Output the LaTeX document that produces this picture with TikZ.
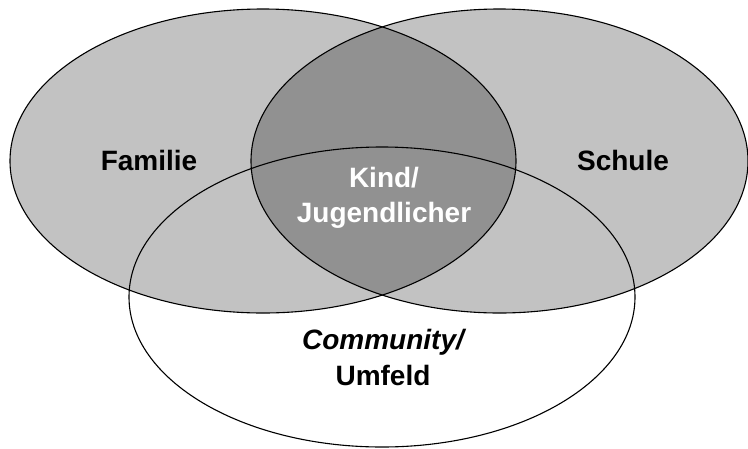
\documentclass[tikz,border=0pt]{standalone}
\usepackage{fontspec}
\setmainfont{Liberation Sans}
\usetikzlibrary{shapes.geometric}
\begin{document}
\begin{tikzpicture}[x=1pt,y=-1pt,
  setline/.style={draw=black,line width=1.1pt},
  setfill/.style={fill=black!24},
  lensfill/.style={fill=black!43},
  lbl/.style={font=\fontsize{28}{35}\selectfont\bfseries,align=center,inner sep=0pt}]
\useasboundingbox (0,0) rectangle (748,448);
% fills
\fill[setfill] (263,161) ellipse [x radius=253, y radius=152];
\fill[setfill] (499.5,161) ellipse [x radius=248.5, y radius=152];
\begin{scope}
  \clip (263,161) ellipse [x radius=253, y radius=152];
  \fill[lensfill] (499.5,161) ellipse [x radius=248.5, y radius=152];
\end{scope}
% outlines
\node[setline,ellipse,minimum width=506pt,minimum height=304pt,inner sep=0pt] (fam) at (263,161) {};
\node[setline,ellipse,minimum width=497pt,minimum height=304pt,inner sep=0pt] (sch) at (499.5,161) {};
\node[setline,ellipse,minimum width=506pt,minimum height=300pt,inner sep=0pt] (com) at (382,297) {};
% labels
\node[lbl,anchor=base] (tfam) at (149,170) {Familie};
\node[lbl,anchor=base] (tsch) at (623,170) {Schule};
\node[lbl,anchor=base,text=white] (tkind) at (384,187) {Kind/};
\node[lbl,anchor=base,text=white] (tjug) at (384,222) {Jugendlicher};
\node[lbl,anchor=base] (tcom) at (383,349) {\itshape Community/};
\node[lbl,anchor=base] (tumf) at (383,385) {Umfeld};
\end{tikzpicture}
\end{document}
